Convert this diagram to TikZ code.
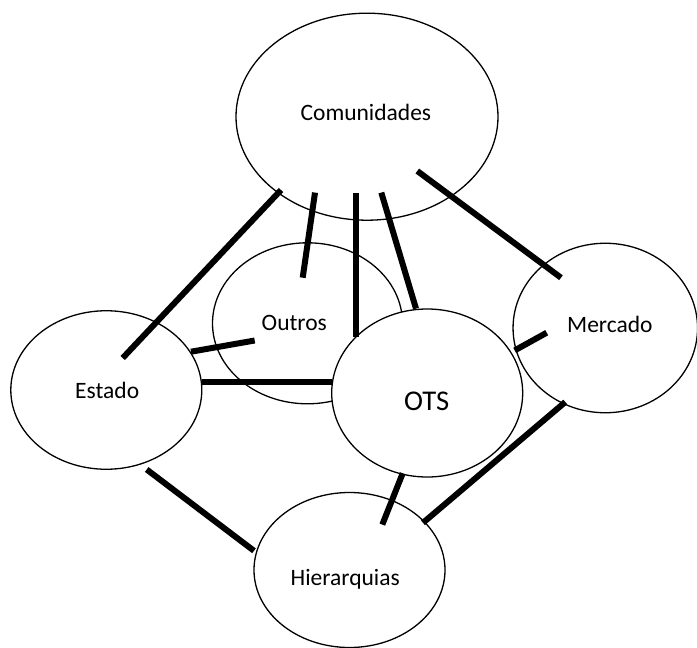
\documentclass[tikz,border=0pt]{standalone}
\usepackage{fontspec}
\setmainfont{Carlito}
\usetikzlibrary{shapes.geometric}
\begin{document}
\begin{tikzpicture}[x=1pt,y=-1pt,
  actor/.style={draw=black, fill=white, ellipse, line width=1.3pt, inner sep=0pt},
  actortext/.style={anchor=base west, inner sep=0pt, font=\fontsize{23.5}{28}\selectfont},
  tie/.style={line width=6pt, line cap=butt}]
\useasboundingbox (0,0) rectangle (697,648);

% actors (ellipses)
\node[actor, minimum width=262pt, minimum height=207pt] (com) at (367,116.7) {};
\node[actor, minimum width=190pt, minimum height=161pt] (out) at (307.5,323.3) {};
\node[actor, minimum width=191pt, minimum height=158.5pt] (est) at (106.3,390) {};
\node[actor, minimum width=184.5pt, minimum height=169.5pt] (mer) at (605.3,328) {};
\node[actor, minimum width=191pt, minimum height=168pt] (ots) at (427.2,393) {};
\node[actor, minimum width=191pt, minimum height=155pt] (hie) at (349.5,570) {};

% labels
\node[actortext] (comtxt) at (300.4,120.8) {Comunidades};
\node[actortext] (outtxt) at (261.5,330.3) {Outros};
\node[actortext] (esttxt) at (75,398.2) {Estado};
\node[actortext] (mertxt) at (567,332.8) {Mercado};
\node[actortext, font=\fontsize{28.6}{34}\selectfont] (otstxt) at (404,410.8) {OTS};
\node[actortext] (hietxt) at (290.5,585) {Hierarquias};

% ends of the ties
\coordinate (a1) at (281,190);     \coordinate (a2) at (122.7,358);
\coordinate (b1) at (315,192.6);   \coordinate (b2) at (302.7,277.7);
\coordinate (c1) at (356.4,192.6); \coordinate (c2) at (356.4,337);
\coordinate (d1) at (381.3,192.6); \coordinate (d2) at (416,308.6);
\coordinate (e1) at (417.3,171);   \coordinate (e2) at (561,277.7);
\coordinate (f1) at (191,351.7);   \coordinate (f2) at (254.7,340.5);
\coordinate (g1) at (202,382);     \coordinate (g2) at (331.5,382);
\coordinate (h1) at (514.7,350.4); \coordinate (h2) at (546.7,332.7);
\coordinate (i1) at (565.3,402);   \coordinate (i2) at (423,522.8);
\coordinate (j1) at (402.7,473.3); \coordinate (j2) at (382.3,524.6);
\coordinate (k1) at (146.7,469.5); \coordinate (k2) at (254,550.8);

% ties between the actors
\draw[tie] (a1) -- (a2);
\draw[tie] (b1) -- (b2);
\draw[tie] (c1) -- (c2);
\draw[tie] (d1) -- (d2);
\draw[tie] (e1) -- (e2);
\draw[tie] (f1) -- (f2);
\draw[tie] (g1) -- (g2);
\draw[tie] (h1) -- (h2);
\draw[tie] (i1) -- (i2);
\draw[tie] (j1) -- (j2);
\draw[tie] (k1) -- (k2);
\end{tikzpicture}
\end{document}
